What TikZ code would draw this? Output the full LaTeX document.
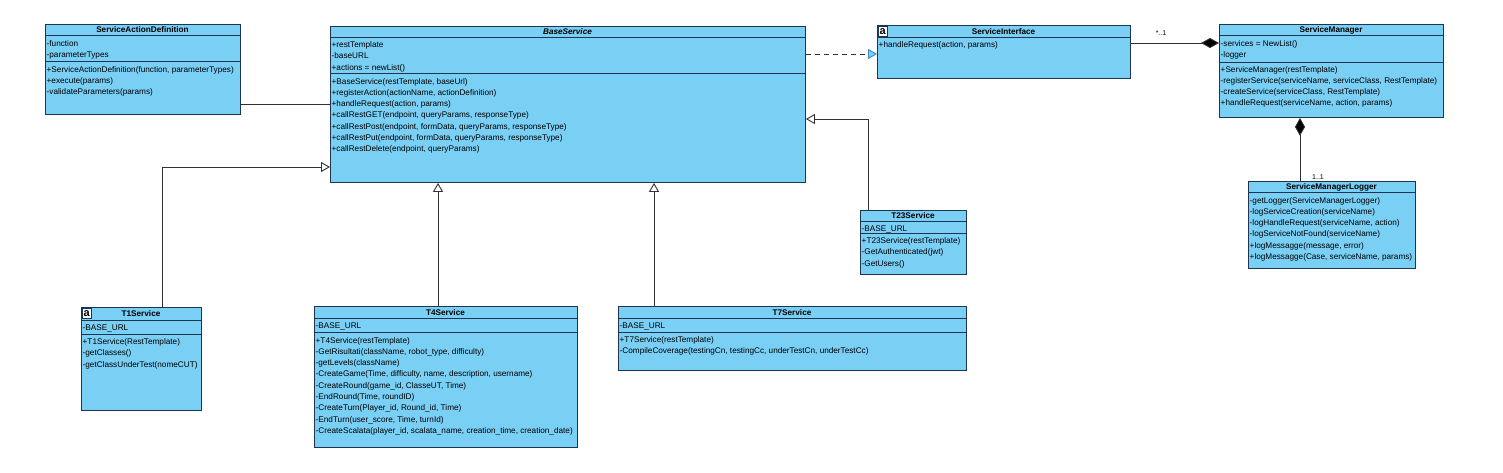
\documentclass[tikz,border=0pt]{standalone}
\usepackage{fontspec}
\setmainfont{Liberation Sans}
\usetikzlibrary{arrows.meta}
\definecolor{boxblue}{HTML}{7ACFF5}
\definecolor{boxline}{HTML}{1C3550}
\definecolor{conn}{HTML}{303030}
\definecolor{tipblue}{HTML}{3C8CC8}
\newcommand\rowfont{\fontsize{8.2}{10}\selectfont}
\tikzset{
  classbox/.style={draw=boxline, fill=boxblue, line width=0.9pt, inner sep=0pt, anchor=north west},
  sepline/.style={draw=boxline, line width=0.9pt},
  rowtext/.style={anchor=base west, inner sep=0pt, font=\rowfont, text=black},
  titletext/.style={anchor=base, inner sep=0pt, font=\rowfont\bfseries, text=black},
  iconbox/.style={fill=white, draw=boxline, line width=0.4pt, inner sep=0pt, minimum width=9pt, minimum height=10pt, anchor=north west, font=\fontsize{11}{11}\selectfont\bfseries},
  mult/.style={inner sep=0pt, font=\fontsize{7}{8}\selectfont, text=black},
  gen/.style={draw=conn, line width=0.9pt, -{Triangle[length=9pt,width=10pt,fill=white]}},
  real/.style={draw=conn, line width=0.9pt, dash pattern=on 5pt off 4pt, -{Triangle[length=9pt,width=10pt,fill=boxblue,color=tipblue]}},
  comp/.style={draw=conn, line width=0.9pt, -{Diamond[length=18pt,width=10pt,fill=black]}},
  assoc/.style={draw=conn, line width=0.9pt}
}
% name, x1, y1, x2, y2, title separator y, title
\newcommand\umlbox[7]{%
  \node[classbox, minimum width={#4-#2}, minimum height={#5-#3}] (#1) at (#2,#3) {};
  \draw[sepline] (#2,#6) -- (#4,#6);
  \node[titletext] (#1-title) at ({(#2+#4)/2},{(#3+#6)/2+3}) {#7};
}
% name prefix, x, first row centre y, list of rows
\newcommand\umlrows[4]{%
  \foreach \t [count=\i] in {#4} {\node[rowtext] (#1\i) at ({#2},{#3+(\i-1)*11.3+3}) {\t};}
}
\begin{document}
\begin{tikzpicture}[x=1pt,y=-1pt]
\fill[white] (0,0) rectangle (1503,472);
\useasboundingbox (0,0) rectangle (1503,472);

% ServiceActionDefinition
\umlbox{sad}{45}{24}{240}{114}{35}{ServiceActionDefinition}
\draw[sepline] (45,61) -- (240,61);
\umlrows{sada}{46.5}{43}{{-function},{-parameterTypes}}
\umlrows{sado}{46.5}{69}{{+ServiceActionDefinition(function, parameterTypes)},{+execute(params)},{-validateParameters(params)}}

% BaseService
\umlbox{base}{330}{26}{805}{182}{37}{\itshape BaseService}
\draw[sepline] (330,73) -- (805,73);
\umlrows{basea}{331.5}{44.5}{{+restTemplate},{-baseURL},{+actions = newList()}}
\umlrows{baseo}{331.5}{81}{{+BaseService(restTemplate, baseUrl)},{+registerAction(actionName, actionDefinition)},{+handleRequest(action, params)},{+callRestGET(endpoint, queryParams, responseType)},{+callRestPost(endpoint, formData, queryParams, responseType)},{+callRestPut(endpoint, formData, queryParams, responseType)},{+callRestDelete(endpoint, queryParams)}}

% ServiceInterface
\umlbox{si}{877}{25}{1130}{78}{37}{ServiceInterface}
\node[iconbox] (si-icon) at (878,26) {a};
\umlrows{sio}{878.5}{44}{{+handleRequest(action, params)}}

% ServiceManager
\umlbox{sm}{1219}{24}{1443}{117}{35}{ServiceManager}
\draw[sepline] (1219,62) -- (1443,62);
\umlrows{sma}{1220.5}{43}{{-services = NewList()},{-logger}}
\umlrows{smo}{1220.5}{69}{{+ServiceManager(restTemplate)},{-registerService(serviceName, serviceClass, RestTemplate)},{-createService(serviceClass, RestTemplate)},{+handleRequest(serviceName, action, params)}}

% ServiceManagerLogger
\umlbox{sml}{1248}{181}{1415}{268}{192}{ServiceManagerLogger}
\umlrows{smlo}{1249.5}{200}{{-getLogger(ServiceManagerLogger)},{-logServiceCreation(serviceName)},{-logHandleRequest(serviceName, action)},{-logServiceNotFound(serviceName)},{+logMessagge(message, error)},{+logMessagge(Case, serviceName, params)}}

% T23Service
\umlbox{tt}{860}{210}{966}{274}{221}{T23Service}
\draw[sepline] (860,233) -- (966,233);
\umlrows{tta}{861.5}{228}{{-BASE\_URL}}
\umlrows{tto}{861.5}{240.5}{{+T23Service(restTemplate)},{-GetAuthenticated(jwt)},{-GetUsers()}}

% T1Service
\umlbox{ta}{81}{307}{201}{410}{320}{T1Service}
\node[iconbox] (ta-icon) at (82,308) {a};
\draw[sepline] (81,334) -- (201,334);
\umlrows{taa}{82.5}{327}{{-BASE\_URL}}
\umlrows{tao}{82.5}{341.5}{{+T1Service(RestTemplate)},{-getClasses()},{-getClassUnderTest(nomeCUT)}}

% T4Service
\umlbox{tb}{314}{306}{577}{447}{318}{T4Service}
\draw[sepline] (314,332) -- (577,332);
\umlrows{tba}{315.5}{325}{{-BASE\_URL}}
\umlrows{tbo}{315.5}{340}{{+T4Service(restTemplate)},{-GetRisultati(className, robot\_type, difficulty)},{-getLevels(className)},{-CreateGame(Time, difficulty, name, description, username)},{-CreateRound(game\_id, ClasseUT, Time)},{-EndRound(Time, roundID)},{-CreateTurn(Player\_id, Round\_id, Time)},{-EndTurn(user\_score, Time, turnId)},{-CreateScalata(player\_id, scalata\_name, creation\_time, creation\_date)}}

% T7Service
\umlbox{tc}{618}{306}{966}{370}{318}{T7Service}
\draw[sepline] (618,332) -- (966,332);
\umlrows{tca}{619.5}{325}{{-BASE\_URL}}
\umlrows{tco}{619.5}{339.5}{{+T7Service(restTemplate)},{-CompileCoverage(testingCn, testingCc, underTestCn, underTestCc)}}

% connectors
\draw[assoc] ([yshift=-80pt]sad.north east) coordinate (a1) -- (a1 -| base.west);
\draw[real] ([yshift=-28pt]base.north east) coordinate (a2) -- (a2 -| si.west);
\draw[comp] ([yshift=-18pt]si.north east) coordinate (a3) -- (a3 -| sm.west);
\node[mult] (m1) at (1161,33) {*..1};
\draw[comp] ([xshift=52pt]sml.north west) coordinate (a4) -- (a4 |- sm.south);
\node[mult] (m2) at (1318,177.5) {1..1};
\draw[gen] ([xshift=81pt]ta.north west) |- ([yshift=-141pt]base.north west);
\draw[gen] ([xshift=124pt]tb.north west) coordinate (a5) -- (a5 |- base.south);
\draw[gen] ([xshift=36pt]tc.north west) coordinate (a6) -- (a6 |- base.south);
\draw[gen] ([xshift=8pt]tt.north west) |- ([yshift=-93pt]base.north east);
\end{tikzpicture}
\end{document}
